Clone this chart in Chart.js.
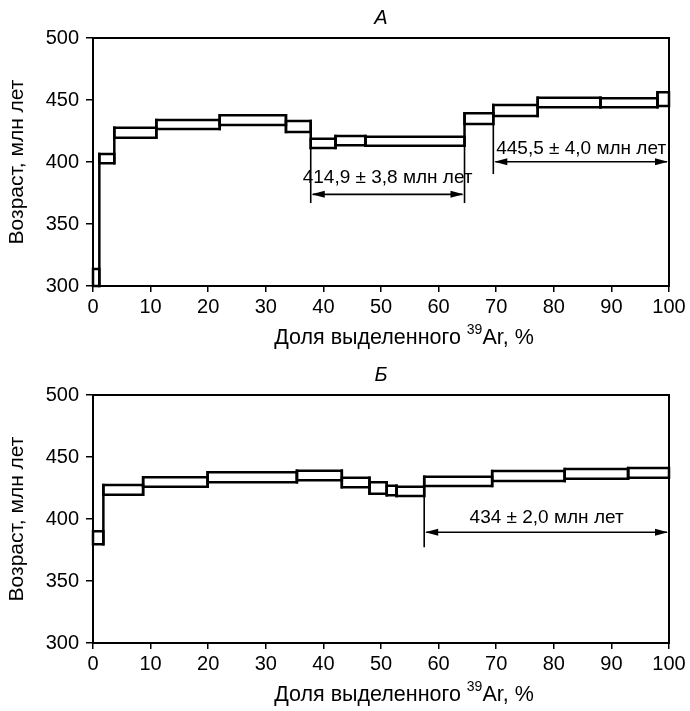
<!DOCTYPE html>
<html lang="ru">
  <head>
    <meta charset="UTF-8" />
    <meta name="viewport" content="width=device-width, initial-scale=1.0" />
    <script src="https://cdn.jsdelivr.net/npm/chart.js"></script>
    <title>Возрастные спектры 39Ar</title>
    <style>
      html, body { margin: 0; padding: 0; background: #fff; }
      canvas { display: block; }
    </style>
  </head>
  <body>
    <canvas id="graficoA" width="690" height="357"></canvas>
    <canvas id="graficoB" width="690" height="354"></canvas>
  </body>
</html>

<script>
  // Панель А: границы ступеней (доля 39Ar, %) и возраст ступени (низ / верх, млн лет)
  const limitesA = [0, 1.1, 3.7, 11.0, 22.0, 33.5, 37.8, 42.1, 47.3, 64.5, 69.5, 77.2, 88.1, 98.0, 100];
  const idadeMinA = [300, 399, 419.6, 426.6, 429.8, 424.2, 411.3, 413.5, 413.1, 430.6, 437.1, 444.1, 444.1, 445.2];
  const idadeMaxA = [313.7, 406.5, 427.7, 433.9, 437.7, 433.1, 418.8, 421, 420.4, 439.3, 446, 451.9, 451.4, 456.2];

  // Панель А: плато
  const plateauDeA = [37.8, 69.5];
  const plateauAteA = [64.5, 100];
  const plateauSetaA = [373.9, 400.2];
  const plateauFimLinhaA = [366.9, 390.3];
  const plateauTextoIdadeA = [387, 410.7];
  const plateauTextoA = ["414,9 ± 3,8 млн лет", "445,5 ± 4,0 млн лет"];

  // Панель Б
  const limitesB = [0, 1.8, 8.7, 19.9, 35.4, 43.2, 48.0, 51.0, 52.7, 57.5, 69.3, 81.9, 92.9, 100];
  const idadeMinB = [379.6, 419.6, 426.0, 429.6, 431.2, 425.6, 420.4, 419.1, 418.5, 426.6, 430.6, 432.5, 433.3];
  const idadeMaxB = [390.1, 427.4, 433.6, 437.7, 439, 433.3, 429.6, 426.9, 426, 434.1, 438.7, 440.3, 441.1];

  const plateauDeB = [57.5];
  const plateauAteB = [100];
  const plateauSetaB = [389.3];
  const plateauFimLinhaB = [377.2];
  const plateauTextoIdadeB = [400.6];
  const plateauTextoB = ["434 ± 2,0 млн лет"];

  // подписи осей и тики
  const ticksX = [0, 10, 20, 30, 40, 50, 60, 70, 80, 90, 100];
  const ticksY = [300, 350, 400, 450, 500];
  const tituloY = "Возраст, млн лет";

  const fonte = '"Liberation Sans", Arial, sans-serif';

  function linha(pontos) {
    return {
      data: pontos,
      showLine: true,
      borderColor: "#000",
      borderWidth: 2.5,
      borderJoinStyle: "miter",
      borderCapStyle: "square",
      pointRadius: 0,
      tension: 0,
      fill: false,
      clip: 4,
    };
  }

  function montarDatasets(limites, idadeMin, idadeMax) {
    let datasets = [];
    // прямоугольники ступеней
    for (let i = 0; i < idadeMin.length; i++) {
      let x1 = limites[i];
      let x2 = limites[i + 1];
      datasets.push(linha([
        { x: x1, y: idadeMin[i] },
        { x: x2, y: idadeMin[i] },
        { x: x2, y: idadeMax[i] },
        { x: x1, y: idadeMax[i] },
        { x: x1, y: idadeMin[i] },
      ]));
    }
    // вертикальные связки между соседними ступенями
    for (let i = 1; i < idadeMin.length; i++) {
      let x = limites[i];
      datasets.push(linha([
        { x: x, y: Math.min(idadeMin[i - 1], idadeMin[i]) },
        { x: x, y: Math.max(idadeMax[i - 1], idadeMax[i]) },
      ]));
    }
    return datasets;
  }

  function seta(ctx, x, y, dir) {
    ctx.beginPath();
    ctx.moveTo(x, y);
    ctx.lineTo(x + dir * 13, y - 3.5);
    ctx.lineTo(x + dir * 13, y + 3.5);
    ctx.closePath();
    ctx.fill();
  }

  // рамка, заголовок панели, подпись оси X и плато
  const pluginExtras = {
    id: "extras",
    afterDraw(chart, args, opts) {
      const ctx = chart.ctx;
      const area = chart.chartArea;
      const sx = chart.scales.x;
      const sy = chart.scales.y;
      ctx.save();

      // рамка
      ctx.strokeStyle = "#000";
      ctx.lineWidth = 2;
      ctx.strokeRect(area.left, area.top, area.right - area.left, area.bottom - area.top);

      // заголовок панели
      ctx.fillStyle = "#000";
      ctx.font = "italic 20px " + fonte;
      ctx.textAlign = "center";
      ctx.textBaseline = "middle";
      ctx.fillText(opts.titulo, (area.left + area.right) / 2, area.top - 20);

      // подпись оси X с верхним индексом
      const parte1 = "Доля выделенного ";
      const sup = "39";
      const parte2 = "Ar, %";
      ctx.textAlign = "left";
      ctx.font = "21.5px " + fonte;
      const w1 = ctx.measureText(parte1).width;
      const w3 = ctx.measureText(parte2).width;
      ctx.font = "14px " + fonte;
      const w2 = ctx.measureText(sup).width;
      let cx = (area.left + area.right) / 2 + 23;
      let yT = area.bottom + 52;
      let xT = cx - (w1 + w2 + w3) / 2;
      ctx.font = "21.5px " + fonte;
      ctx.fillText(parte1, xT, yT);
      ctx.font = "14px " + fonte;
      ctx.fillText(sup, xT + w1, yT - 8);
      ctx.font = "21.5px " + fonte;
      ctx.fillText(parte2, xT + w1 + w2, yT);

      // плато
      for (let i = 0; i < opts.de.length; i++) {
        const xa = sx.getPixelForValue(opts.de[i]);
        const xb = sx.getPixelForValue(opts.ate[i]);
        const ys = sy.getPixelForValue(opts.seta[i]);
        const yFim = sy.getPixelForValue(opts.fimLinha[i]);
        ctx.lineWidth = 1.6;
        ctx.strokeStyle = "#000";

        // вертикальные линии от нижнего края ступеней
        [opts.de[i], opts.ate[i]].forEach(function (v) {
          if (v >= 100) return;
          let k = opts.limites.indexOf(v);
          let baixo = Math.min(
            k > 0 ? opts.idadeMin[k - 1] : 500,
            k < opts.idadeMin.length ? opts.idadeMin[k] : 500
          );
          const xv = sx.getPixelForValue(v);
          ctx.beginPath();
          ctx.moveTo(xv, sy.getPixelForValue(baixo));
          ctx.lineTo(xv, yFim);
          ctx.stroke();
        });

        // двойная стрелка
        ctx.beginPath();
        ctx.moveTo(xa + 2, ys);
        ctx.lineTo(xb - 2, ys);
        ctx.stroke();
        seta(ctx, xa + 1, ys, 1);
        seta(ctx, xb - 1, ys, -1);

        // текст
        ctx.font = "19px " + fonte;
        ctx.textAlign = "center";
        ctx.textBaseline = "middle";
        ctx.fillText(opts.textos[i], (xa + xb) / 2, sy.getPixelForValue(opts.textoIdade[i]));
      }
      ctx.restore();
    },
  };

  function criarGrafico(id, titulo, limites, idadeMin, idadeMax, plato, alturaEixoX) {
    const config = {
      type: "scatter",
      data: { datasets: montarDatasets(limites, idadeMin, idadeMax) },
      options: {
        responsive: false,
        animation: false,
        layout: { padding: { left: 0, right: 21, top: 38, bottom: 0 } },
        scales: {
          x: {
            type: "linear",
            min: ticksX[0],
            max: ticksX[ticksX.length - 1],
            afterBuildTicks: function (s) {
              s.ticks = ticksX.map(function (v) { return { value: v }; });
            },
            ticks: { color: "#000", font: { size: 20, family: fonte }, padding: 3 },
            grid: { drawOnChartArea: false, tickLength: 6, color: "#000", lineWidth: 1.5 },
            border: { color: "#000", width: 2 },
            afterFit: function (s) { s.height = alturaEixoX; },
          },
          y: {
            min: ticksY[0],
            max: ticksY[ticksY.length - 1],
            afterBuildTicks: function (s) {
              s.ticks = ticksY.map(function (v) { return { value: v }; });
            },
            ticks: { color: "#000", font: { size: 20, family: fonte }, padding: 7 },
            grid: { drawOnChartArea: false, tickLength: 7, color: "#000", lineWidth: 1.5 },
            border: { color: "#000", width: 2 },
            title: {
              display: true,
              text: tituloY,
              color: "#000",
              font: { size: 21, family: fonte },
              padding: { top: 5, bottom: 0 },
            },
            afterFit: function (s) { s.width = 93; },
          },
        },
        plugins: {
          legend: { display: false },
          tooltip: { enabled: false },
          title: { display: false },
          extras: Object.assign({ titulo: titulo, limites: limites, idadeMin: idadeMin }, plato),
        },
      },
      plugins: [pluginExtras],
    };
    return new Chart(document.getElementById(id), config);
  }

  criarGrafico("graficoA", "А", limitesA, idadeMinA, idadeMaxA, {
    de: plateauDeA, ate: plateauAteA, seta: plateauSetaA, fimLinha: plateauFimLinhaA,
    textoIdade: plateauTextoIdadeA, textos: plateauTextoA,
  }, 357 - 38 - 248);

  criarGrafico("graficoB", "Б", limitesB, idadeMinB, idadeMaxB, {
    de: plateauDeB, ate: plateauAteB, seta: plateauSetaB, fimLinha: plateauFimLinhaB,
    textoIdade: plateauTextoIdadeB, textos: plateauTextoB,
  }, 354 - 38 - 248);
</script>
